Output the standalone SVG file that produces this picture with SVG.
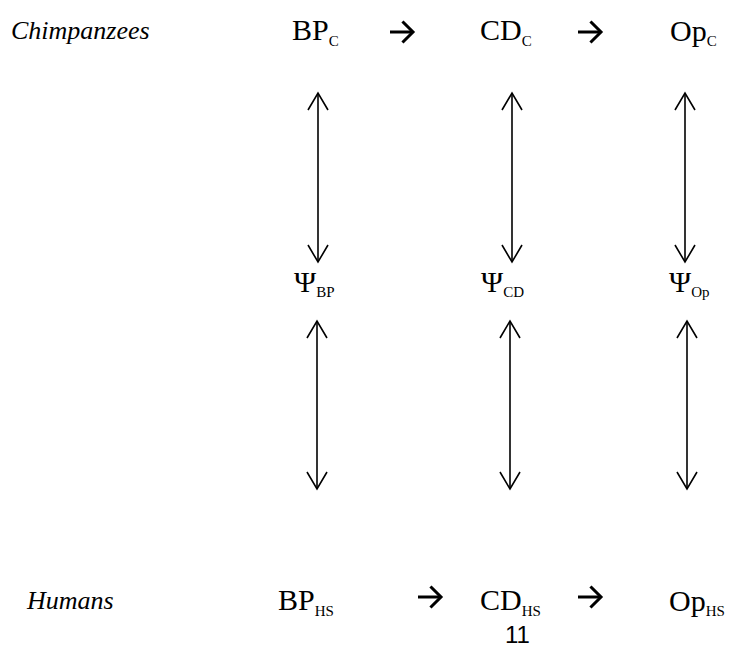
<svg xmlns="http://www.w3.org/2000/svg" width="736" height="648" viewBox="0 0 736 648">
<style>
text{font-family:"Liberation Serif","Times New Roman",serif;fill:#000}
.lbl{font-size:26px;font-style:italic}
.n{font-size:30px}
.sub{font-size:15px}
.pg{font-family:"Liberation Sans",Arial,sans-serif;font-size:24px}
.v{stroke:#000;stroke-width:1.6;fill:none}
.h{stroke:#000;stroke-width:3;fill:none}
</style>
<defs>
<marker id="open" viewBox="-20 -12 22 24" refX="0" refY="0" markerWidth="22" markerHeight="24" markerUnits="userSpaceOnUse" orient="auto-start-reverse" overflow="visible">
<path d="M -17 -10 L 0 0 L -17 10" fill="none" stroke="#000" stroke-width="1.6"/>
</marker>
<marker id="bold" viewBox="-12 -12 14 24" refX="0" refY="0" markerWidth="14" markerHeight="24" markerUnits="userSpaceOnUse" orient="auto" overflow="visible">
<path d="M -9.5 -9.5 L 0 0 L -9.5 9.5" fill="none" stroke="#000" stroke-width="3" stroke-linecap="square"/>
</marker>
</defs>
<g id="label-chimpanzees"><text class="lbl" x="11" y="39">Chimpanzees</text></g>
<g id="label-humans"><text class="lbl" x="27" y="609">Humans</text></g>
<g id="BP_C"><text class="n" x="292" y="40">BP<tspan class="sub" dy="6">C</tspan></text></g>
<g id="CD_C"><text class="n" x="480" y="40">CD<tspan class="sub" dy="6">C</tspan></text></g>
<g id="Op_C"><text class="n" x="670" y="41">Op<tspan class="sub" dy="5">C</tspan></text></g>
<g id="Psi_BP"><text class="n" x="294" y="292">Ψ<tspan class="sub" dy="5">BP</tspan></text></g>
<g id="Psi_CD"><text class="n" x="481" y="292">Ψ<tspan class="sub" dy="5">CD</tspan></text></g>
<g id="Psi_Op"><text class="n" x="669" y="292">Ψ<tspan class="sub" dy="5">Op</tspan></text></g>
<g id="BP_HS"><text class="n" x="278" y="610">BP<tspan class="sub" dy="6">HS</tspan></text></g>
<g id="CD_HS"><text class="n" x="480" y="610">CD<tspan class="sub" dy="6">HS</tspan></text></g>
<g id="Op_HS"><text class="n" x="669" y="611">Op<tspan class="sub" dy="5">HS</tspan></text></g>
<g id="page-number"><text class="pg" x="505" y="643">11</text></g>
<g id="connectors">
<line class="h" x1="390" y1="32" x2="413" y2="32" marker-end="url(#bold)"/>
<line class="h" x1="578" y1="32" x2="601" y2="32" marker-end="url(#bold)"/>
<line class="h" x1="418" y1="597" x2="441" y2="597" marker-end="url(#bold)"/>
<line class="h" x1="578" y1="597" x2="601" y2="597" marker-end="url(#bold)"/>
<line class="v" x1="318" y1="93" x2="318" y2="262" marker-start="url(#open)" marker-end="url(#open)"/>
<line class="v" x1="512" y1="93" x2="512" y2="262" marker-start="url(#open)" marker-end="url(#open)"/>
<line class="v" x1="685" y1="93" x2="685" y2="262" marker-start="url(#open)" marker-end="url(#open)"/>
<line class="v" x1="317" y1="321" x2="317" y2="489" marker-start="url(#open)" marker-end="url(#open)"/>
<line class="v" x1="510" y1="321" x2="510" y2="489" marker-start="url(#open)" marker-end="url(#open)"/>
<line class="v" x1="687" y1="321" x2="687" y2="489" marker-start="url(#open)" marker-end="url(#open)"/>
</g>
</svg>
